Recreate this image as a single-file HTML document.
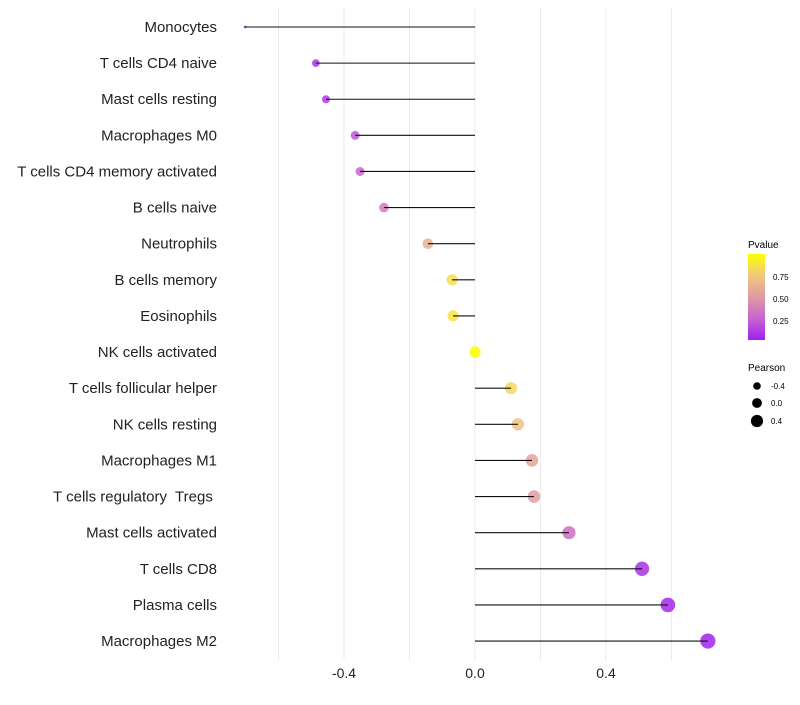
<!DOCTYPE html>
<html><head><meta charset="utf-8"><style>
body{margin:0;background:#fff;font-family:"Liberation Sans",sans-serif;}
text{white-space:pre;}
</style></head><body>
<svg id="chart" width="800" height="700" xmlns="http://www.w3.org/2000/svg" font-family="Liberation Sans, sans-serif">
<defs><linearGradient id="pg" x1="0" y1="1" x2="0" y2="0">
<stop offset="0" stop-color="#a020f0"/><stop offset="0.25" stop-color="#c864d0"/><stop offset="0.5" stop-color="#e09aa0"/><stop offset="0.75" stop-color="#f0c880"/><stop offset="1" stop-color="#ffff00"/></linearGradient></defs>
<g id="grid"></g><g id="marks"></g><g id="labels"></g>
<g>
<text x="748" y="248" font-size="10">Pvalue</text>
<rect x="748" y="254" width="17" height="86" fill="url(#pg)"/>
<text x="773" y="280" font-size="8">0.75</text>
<text x="773" y="302" font-size="8">0.50</text>
<text x="773" y="324" font-size="8">0.25</text>
</g>
<g>
<text x="748" y="371" font-size="10">Pearson</text>
<circle cx="757" cy="386" r="3.8"/><text x="771" y="389" font-size="8">-0.4</text>
<circle cx="757" cy="403" r="4.9"/><text x="771" y="406" font-size="8">0.0</text>
<circle cx="757" cy="421" r="6.1"/><text x="771" y="424" font-size="8">0.4</text>
</g>
</svg>
<script>
const categories=["Monocytes","T cells CD4 naive","Mast cells resting","Macrophages M0","T cells CD4 memory activated","B cells naive","Neutrophils","B cells memory","Eosinophils","NK cells activated","T cells follicular helper","NK cells resting","Macrophages M1","T cells regulatory  Tregs ","Mast cells activated","T cells CD8","Plasma cells","Macrophages M2"];
const pearson=[-0.702,-0.486,-0.455,-0.366,-0.351,-0.278,-0.144,-0.070,-0.067,0.0,0.110,0.131,0.174,0.180,0.287,0.510,0.589,0.711];
const pvalue=[0.03,0.08,0.1,0.2,0.25,0.35,0.62,0.85,0.87,0.99,0.82,0.72,0.55,0.52,0.3,0.06,0.03,0.01];
const xTicks=[-0.4,0.0,0.4];
const xGrid=[-0.6,-0.4,-0.2,0,0.2,0.4,0.6];
const NS="http://www.w3.org/2000/svg";
const xs=v=>475+v*327.5;
const ys=i=>27+i*36.12;
const pMin=Math.min(...pearson),pMax=Math.max(...pearson);
const rs=v=>1.4+6.2*Math.sqrt((v-pMin)/(pMax-pMin));
const stops=[[0,[160,32,240]],[0.25,[200,100,208]],[0.5,[224,154,160]],[0.75,[240,200,128]],[1,[255,255,0]]];
function col(p){for(let k=1;k<stops.length;k++){if(p<=stops[k][0]){const a=stops[k-1],b=stops[k],t=(p-a[0])/(b[0]-a[0]);return "rgb("+a[1].map((c,j)=>Math.round(c+(b[1][j]-c)*t)).join(",")+")";}}return "rgb(255,255,0)";}
function mk(t,at,par){const e=document.createElementNS(NS,t);for(const k in at)e.setAttribute(k,at[k]);par.appendChild(e);return e;}
const G=document.getElementById("grid"),M=document.getElementById("marks"),L=document.getElementById("labels");
xGrid.forEach(v=>{const l=mk("line",{x1:xs(v),x2:xs(v),y1:8,y2:660,stroke:"#ebebeb","stroke-width":1},G);

});
xTicks.forEach(v=>{const t=mk("text",{x:xs(v),y:678,"text-anchor":"middle","font-size":14,fill:"#222"},L);t.textContent=v.toFixed(1);

});
categories.forEach((c,i)=>{const y=ys(i);
const t=mk("text",{x:217,y:y+5,"text-anchor":"end","font-size":15,fill:"#222"},L);t.textContent=c;


const d=mk("circle",{cx:xs(pearson[i]),cy:y,r:rs(pearson[i]),fill:col(pvalue[i]),"fill-opacity":0.85},M);


const l=mk("line",{x1:xs(0),x2:xs(pearson[i]),y1:y,y2:y,stroke:"#111","stroke-width":1.1},M);

});
</script>
</body></html>
